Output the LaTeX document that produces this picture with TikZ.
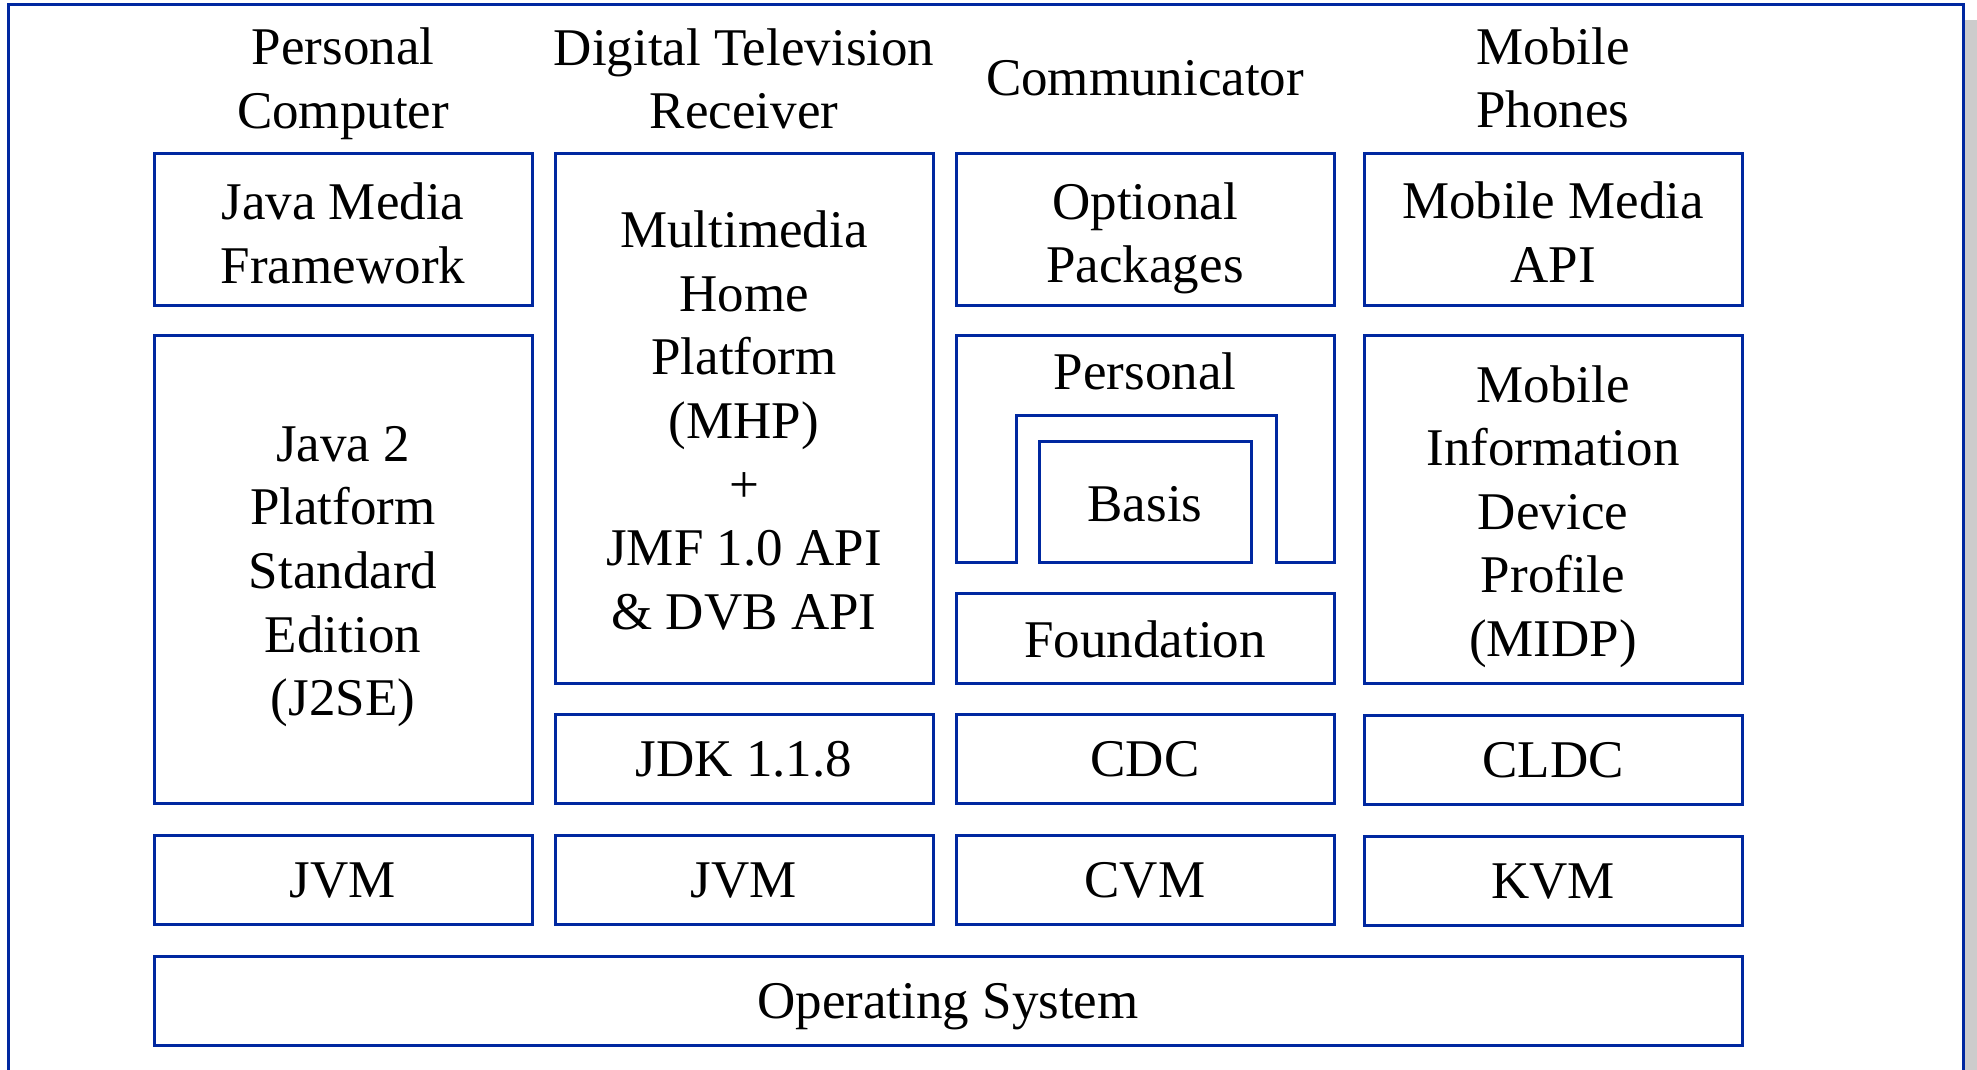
\documentclass[tikz,border=0pt]{standalone}
\usepackage{fontspec}
\setmainfont{Liberation Serif}
\definecolor{frameblue}{RGB}{0,40,160}
\newcommand{\mainfnt}{\fontsize{26.5}{31.8}\selectfont}
% \bx[text shift]{name}{x1}{y1}{x2}{y2}{text}
\newcommand{\bx}[7][-0.6pt]{%
  \node[box,minimum width={(#5-#3)*0.5pt},minimum height={(#6-#4)*0.5pt}] (#2) at ({(#3+#5)/2},{(#4+#6)/2}) {};
  \node[lbl,yshift=#1] (#2-text) at (#2.center) {#7};}
\begin{document}
\begin{tikzpicture}[x=0.5pt,y=-0.5pt,
  box/.style={draw=frameblue,line width=1.5pt,inner sep=0pt},
  lbl/.style={align=center,font=\mainfnt,inner sep=0pt}]
\useasboundingbox (0,0) rectangle (1977,1070);
\fill[gray!40] (1965,20) rectangle (1977,1070);
\draw[frameblue,line width=1.5pt] (8,1080) -- (8,5) -- (1963,5) -- (1963,1080);
% column headers
\node[lbl] (pc) at (343,84) {Personal\\Computer};
\node[lbl] (dtv) at (744,79) {Digital Television\\Receiver};
\node[lbl] (comm) at (1145,78) {Communicator};
\node[lbl] (mob) at (1553,78) {Mobile\\Phones};
% column 1
\bx[-1.9pt]{jmf}{154}{154}{532}{305}{Java Media\\Framework}
\bx[-3.8pt]{j2se}{154}{335}{532}{803}{Java 2\\Platform\\Standard\\Edition\\(J2SE)}
\bx{jvm1}{154}{835}{532}{924}{JVM}
% column 2
\bx[-1pt]{mhp}{555}{154}{933}{683}{Multimedia\\Home\\Platform\\(MHP)\\+\\JMF 1.0 API\\\& DVB API}
\bx{jdk}{555}{714}{933}{803}{JDK 1.1.8}
\bx{jvm2}{555}{835}{933}{924}{JVM}
% column 3
\bx[-4.4pt]{opt}{956}{154}{1334}{305}{Optional\\Packages}
\draw[frameblue,line width=1.5pt] (956,562) -- (1016,562) -- (1016,415) -- (1276,415) -- (1276,562) -- (1334,562) -- (1334,335) -- (956,335) -- cycle;
\node[lbl] (pers) at (1145,371) {Personal};
\bx[-1.3pt]{basis}{1039}{441}{1251}{562}{Basis}
\bx{found}{956}{593}{1334}{683}{Foundation}
\bx{cdc}{956}{714}{1334}{803}{CDC}
\bx{cvm}{956}{835}{1334}{924}{CVM}
% column 4
\bx[-1.3pt]{mma}{1364}{154}{1742}{305}{Mobile Media\\API}
\bx[-3.8pt]{midp}{1364}{335}{1742}{683}{Mobile\\Information\\Device\\Profile\\(MIDP)}
\bx{cldc}{1364}{715}{1742}{804}{CLDC}
\bx{kvm}{1364}{836}{1742}{925}{KVM}
% bottom
\bx[-3.2pt]{os}{154}{956}{1742}{1045}{Operating System}
\end{tikzpicture}
\end{document}
